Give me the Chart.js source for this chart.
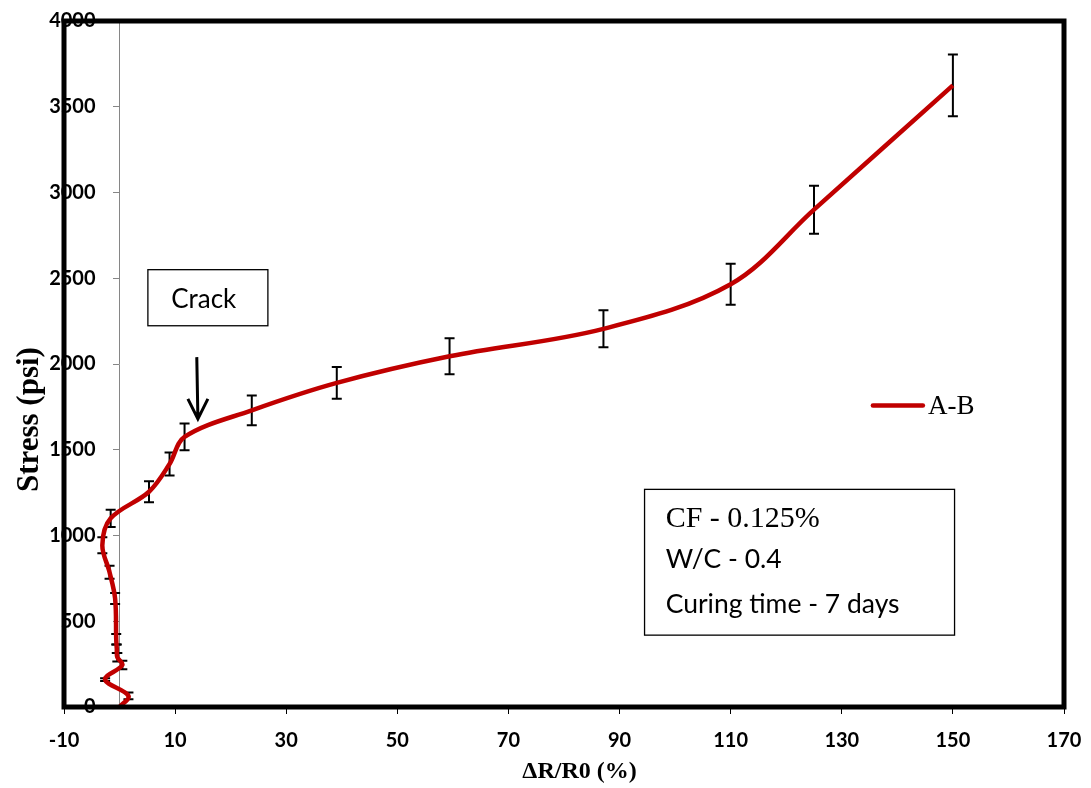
<!DOCTYPE html>
<html><head><meta charset="utf-8">
<script src="https://cdn.jsdelivr.net/npm/chart.js@4/dist/chart.umd.min.js"></script>
<style>html,body{margin:0;padding:0;background:#fff;}#wrap{width:1091px;height:788px;}</style>
</head><body><div id="wrap"><canvas id="c" width="1091" height="788"></canvas></div>
<script>
// ---- data ----
const seriesLabel = 'A-B';
const deltaR    = [0, 1.6, -2.6, 0.5, -0.4, -0.5, -0.6, -0.8, -1.8, -3.1, -1.6, 5.3, 9.0, 11.7, 23.8, 39.1, 59.4, 87.1, 110, 125, 150];
const stress    = [0, 65, 160, 245, 290, 340, 395, 632, 786, 943, 1100, 1255, 1417, 1575, 1730, 1890, 2045, 2205, 2465, 2900, 3625];
const stressErr = [0, 20, 8, 25, 25, 25, 30, 32, 38, 47, 50, 61, 67, 78, 87, 93, 105, 108, 119, 140, 180];
const xTickValues = [-10, 10, 30, 50, 70, 90, 110, 130, 150, 170];
const yTickValues = [0, 500, 1000, 1500, 2000, 2500, 3000, 3500, 4000];
const xTitle = 'ΔR/R0 (%)';
const yTitle = 'Stress (psi)';
const crackLabel = 'Crack';
const infoLines = ['CF - 0.125%', 'W/C - 0.4', 'Curing time - 7 days'];

const lineColor = '#c00000';
const points = deltaR.map((v, i) => ({x: v, y: stress[i], err: stressErr[i]}));

const errorBars = {
  id: 'errorBars',
  beforeDatasetsDraw(chart) {
    const {ctx, scales: {x, y}} = chart;
    ctx.save();
    ctx.strokeStyle = '#000';
    ctx.lineWidth = 2;
    chart.data.datasets[0].data.forEach(p => {
      if (!p.err) return;
      const px = x.getPixelForValue(p.x);
      const t = y.getPixelForValue(p.y + p.err), b = y.getPixelForValue(p.y - p.err);
      ctx.beginPath();
      ctx.moveTo(px, t); ctx.lineTo(px, b);
      ctx.moveTo(px - 5, t); ctx.lineTo(px + 5, t);
      ctx.moveTo(px - 5, b); ctx.lineTo(px + 5, b);
      ctx.stroke();
    });
    ctx.restore();
  }
};

const decor = {
  id: 'decor',
  beforeDraw(chart) {
    const {ctx} = chart;
    ctx.save(); ctx.fillStyle = '#fff'; ctx.fillRect(0, 0, chart.width, chart.height); ctx.restore();
  },
  afterDraw(chart) {
    const {ctx, chartArea: a, scales: {x, y}} = chart;
    ctx.save();
    // y tick labels, placed left of the y axis that crosses at x = 0
    const x0 = x.getPixelForValue(0);
    ctx.fillStyle = '#000';
    ctx.font = 'bold 20px Lato';
    ctx.textAlign = 'right'; ctx.textBaseline = 'middle';
    y.ticks.forEach(t => ctx.fillText(String(t.value), x0 - 24, y.getPixelForValue(t.value)));
    // plot frame
    ctx.strokeStyle = '#000'; ctx.lineWidth = 5;
    ctx.strokeRect(a.left, a.top, a.right - a.left, a.bottom - a.top);
    // x title
    ctx.textAlign = 'center'; ctx.textBaseline = 'middle';
    ctx.font = 'bold 24px "Liberation Serif"';
    ctx.fillText(xTitle, x.getPixelForValue(82.8), a.bottom + 65);
    // y title
    ctx.save();
    ctx.translate(30, y.getPixelForValue(1676));
    ctx.rotate(-Math.PI / 2);
    ctx.font = 'bold 31px "Liberation Serif"';
    ctx.fillText(yTitle, 0, 0);
    ctx.restore();
    // legend
    const ds = chart.data.datasets[0];
    const ly = y.getPixelForValue(1758);
    ctx.strokeStyle = ds.borderColor; ctx.lineWidth = 4.5; ctx.lineCap = 'round';
    ctx.beginPath(); ctx.moveTo(x.getPixelForValue(135.6), ly); ctx.lineTo(x.getPixelForValue(144.6), ly); ctx.stroke();
    ctx.lineCap = 'butt';
    ctx.textBaseline = 'middle'; ctx.textAlign = 'left';
    ctx.font = '27px "Liberation Serif"';
    ctx.fillText(ds.label, x.getPixelForValue(145.5), ly + 1);
    // crack box
    ctx.strokeStyle = '#000'; ctx.lineWidth = 1.3;
    const cx1 = x.getPixelForValue(5.1), cx2 = x.getPixelForValue(26.7);
    const cy1 = y.getPixelForValue(2550), cy2 = y.getPixelForValue(2223);
    ctx.strokeRect(cx1, cy1, cx2 - cx1, cy2 - cy1);
    ctx.textBaseline = 'alphabetic';
    ctx.font = '26px Lato';
    ctx.fillText(crackLabel, x.getPixelForValue(9.3), y.getPixelForValue(2328));
    // arrow
    ctx.lineWidth = 3;
    const ax1 = x.getPixelForValue(13.9), ay1 = y.getPixelForValue(2040);
    const ax2 = x.getPixelForValue(14.1), ay2 = y.getPixelForValue(1680);
    ctx.beginPath(); ctx.moveTo(ax1, ay1); ctx.lineTo(ax2, ay2 - 1);
    ctx.moveTo(ax2 - 10, ay2 - 20); ctx.lineTo(ax2, ay2); ctx.lineTo(ax2 + 10, ay2 - 20);
    ctx.stroke();
    // info box
    ctx.lineWidth = 1.3;
    const bx1 = x.getPixelForValue(94.5), bx2 = x.getPixelForValue(150.3);
    const by1 = y.getPixelForValue(1269), by2 = y.getPixelForValue(419);
    ctx.strokeRect(bx1, by1, bx2 - bx1, by2 - by1);
    const tx = x.getPixelForValue(98.3);
    ctx.font = '30px "Liberation Serif"';
    ctx.fillText(infoLines[0], tx, y.getPixelForValue(1048));
    ctx.font = '26.5px Lato';
    ctx.fillText(infoLines[1], tx, y.getPixelForValue(809));
    ctx.fillText(infoLines[2], tx, y.getPixelForValue(547));
    ctx.restore();
  }
};

const tickFont = {family: 'Lato', size: 20, weight: 'bold'};

new Chart(document.getElementById('c'), {
  type: 'scatter',
  data: {
    datasets: [{
      label: seriesLabel,
      data: points,
      showLine: true,
      borderColor: lineColor,
      backgroundColor: lineColor,
      borderWidth: 4.5,
      pointRadius: 0,
      pointHoverRadius: 0,
      tension: 0.35,
      fill: false
    }]
  },
  options: {
    responsive: false,
    animation: false,
    devicePixelRatio: 1,
    layout: {autoPadding: false, padding: {left: 64, right: 27, top: 21, bottom: 0}},
    plugins: {legend: {display: false}, tooltip: {enabled: false}},
    scales: {
      x: {
        type: 'linear', position: 'bottom', min: -10, max: 170,
        afterBuildTicks: s => { s.ticks = xTickValues.map(v => ({value: v})); },
        afterFit: s => { s.height = 81; s.paddingLeft = 0; s.paddingRight = 0; s.paddingTop = 0; s.paddingBottom = 0; },
        grid: {display: true, drawOnChartArea: false, drawTicks: true, tickLength: 7, color: '#000', lineWidth: 1},
        border: {display: false},
        ticks: {color: '#000', font: tickFont, padding: 15, maxRotation: 0, autoSkip: false},
        title: {display: false}
      },
      y: {
        type: 'linear', position: {x: 0}, min: 0, max: 4000,
        afterBuildTicks: s => { s.ticks = yTickValues.map(v => ({value: v})); },
        afterFit: s => { s.paddingLeft = 0; s.paddingRight = 0; s.paddingTop = 0; s.paddingBottom = 0; },
        grid: {display: true, drawOnChartArea: false, drawTicks: true, tickLength: 6, color: '#868686', lineWidth: 1},
        border: {display: true, color: '#868686', width: 1},
        ticks: {display: false}
      }
    }
  },
  plugins: [errorBars, decor]
});
</script></body></html>
